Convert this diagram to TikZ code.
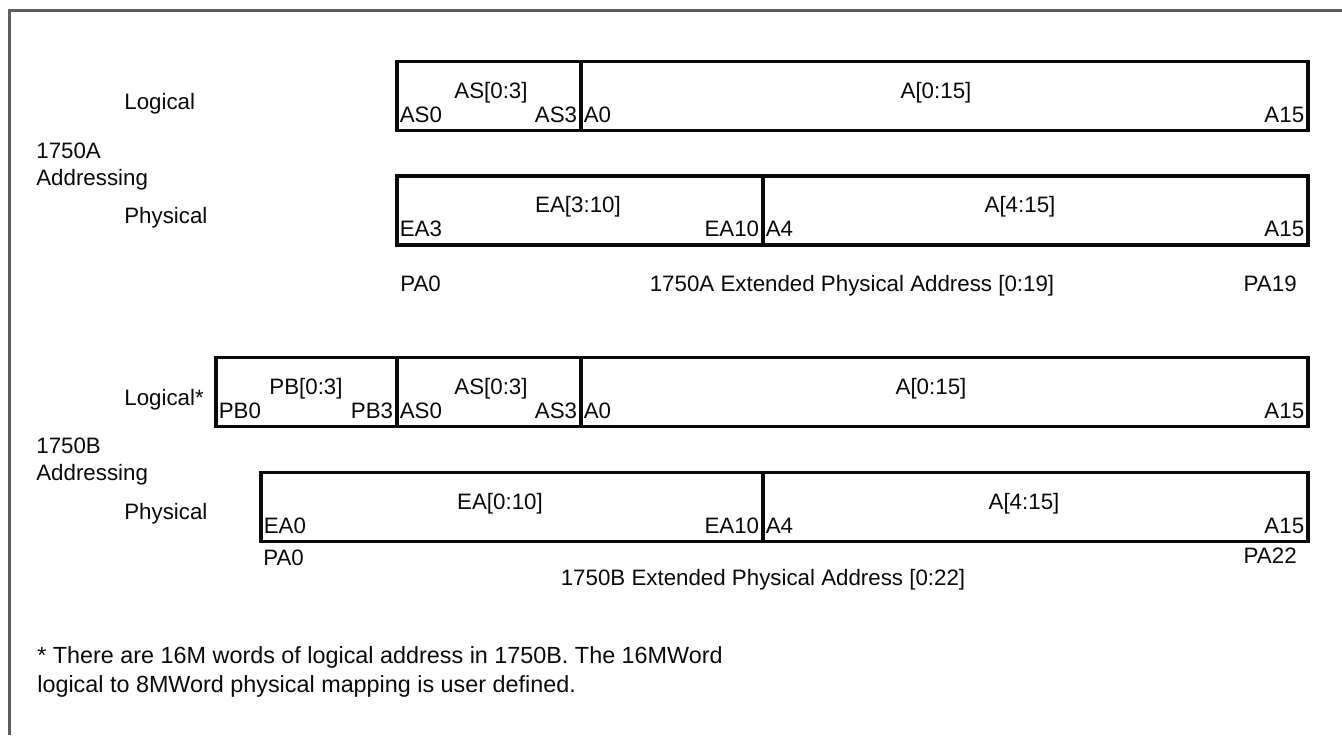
\documentclass[tikz,border=0pt]{standalone}
\usepackage{fontspec}
\setmainfont{Liberation Sans}
\definecolor{framegray}{HTML}{5E5E5E}
\definecolor{inkblack}{HTML}{0A0A0A}
% one field of an address word: name, left, right, top, label x, label, low bit, high bit
\newcommand{\bitfield}[8]{%
	\draw[fieldline] (#2,#4) rectangle (#3,#4+69);
	\node[txt, anchor=base] (#1-lbl) at (#5,#4+36.5) {#6};
	\node[txt, anchor=base west] (#1-lo) at (#2+2.5,#4+60.5) {#7};
	\node[txt, anchor=base east] (#1-hi) at (#3-3.5,#4+60.5) {#8};
}

\begin{document}
\begin{tikzpicture}[x=0.02cm,y=-0.02cm,
	txt/.style={inner sep=0pt, text=inkblack, font=\fontsize{12.7}{14}\selectfont},
	note/.style={inner sep=0pt, text=inkblack, font=\fontsize{13.3}{15}\selectfont},
	fieldline/.style={draw=inkblack, line width=1.8pt}]
	% Fixed canvas in pixel units.
	\path[use as bounding box] (0,0) rectangle (1342,735);
	\fill[white] (0,0) rectangle (1342,735);

	% Open frame, only left and top edges are visible.
	\draw[framegray, line width=1.3pt] (9.5,735) -- (9.5,10.5) -- (1342,10.5);

	% 1750A addressing.
	\node[txt, anchor=base west] (logA) at (124,109) {Logical};
	\node[txt, anchor=base west] (grpA) at (36,158) {1750A};
	\node[txt, anchor=base west] (addrA) at (36,185) {Addressing};
	\node[txt, anchor=base west] (physA) at (124,223) {Physical};

	\bitfield{asA}{397}{581}{61.5}{491}{AS[0:3]}{AS0}{AS3}
	\bitfield{adA}{581}{1308}{61.5}{936}{A[0:15]}{A0}{A15}

	\bitfield{eaA}{397}{763}{176}{578}{EA[3:10]}{EA3}{EA10}
	\bitfield{pgA}{763}{1308}{176}{1020}{A[4:15]}{A4}{A15}

	\node[txt, anchor=base west] (paA0) at (400,291) {PA0};
	\node[txt, anchor=base] (extA) at (852,291) {1750A Extended Physical Address [0:19]};
	\node[txt, anchor=base east] (paA19) at (1297,291) {PA19};

	% 1750B addressing.
	\node[txt, anchor=base west] (logB) at (124,405) {Logical*};
	\node[txt, anchor=base west] (grpB) at (36,453) {1750B};
	\node[txt, anchor=base west] (addrB) at (36,480) {Addressing};
	\node[txt, anchor=base west] (physB) at (124,519) {Physical};

	\bitfield{pbB}{216}{397}{357.5}{306}{PB[0:3]}{PB0}{PB3}
	\bitfield{asB}{397}{581}{357.5}{491}{AS[0:3]}{AS0}{AS3}
	\bitfield{adB}{581}{1308}{357.5}{931}{A[0:15]}{A0}{A15}

	\bitfield{eaB}{261}{763}{472.5}{500}{EA[0:10]}{EA0}{EA10}
	\bitfield{pgB}{763}{1308}{472.5}{1024}{A[4:15]}{A4}{A15}

	\node[txt, anchor=base west] (paB0) at (263,565) {PA0};
	\node[txt, anchor=base east] (paB22) at (1297,563) {PA22};
	\node[txt, anchor=base] (extB) at (763,585) {1750B Extended Physical Address [0:22]};

	% Footnote.
	\node[note, anchor=base west] (fnone) at (37,663)
		{* There are 16M words of logical address in 1750B. The 16MWord};
	\node[note, anchor=base west] (fntwo) at (37,692)
		{logical to 8MWord physical mapping is user defined.};
\end{tikzpicture}
\end{document}
